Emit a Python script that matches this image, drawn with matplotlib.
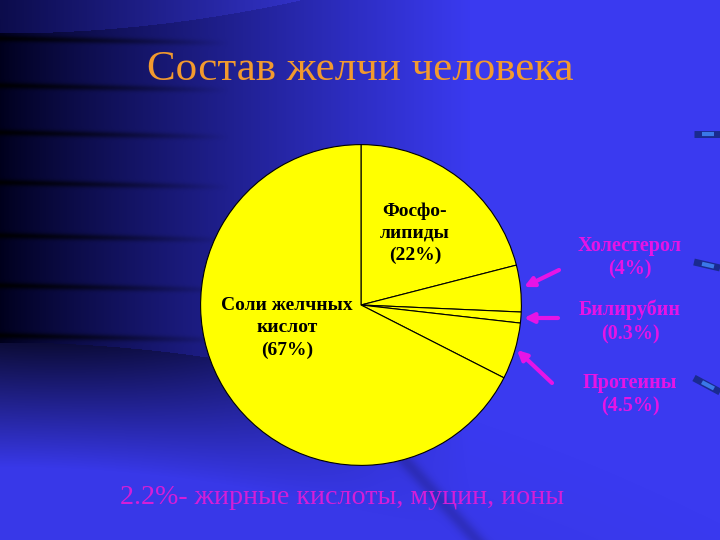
import numpy as np
import matplotlib
matplotlib.use("Agg")
import matplotlib.pyplot as plt
from matplotlib.patches import FancyArrowPatch

# data (slice sizes as drawn, labels as written)
slice_names = ["Фосфолипиды", "Холестерол", "Билирубин", "Протеины", "Соли желчных кислот"]
slice_sizes = [21.0, 4.7, 1.1, 5.7, 67.5]
inner_labels = ["Фосфо-\nлипиды\n(22%)", "Соли желчных\nкислот\n(67%)"]
side_labels = ["Холестерол\n(4%)", "Билирубин\n(0.3%)", "Протеины\n(4.5%)"]
title = "Состав желчи человека"
footnote = "2.2%- жирные кислоты, муцин, ионы"

W, H = 720, 540
plt.rcParams["font.family"] = ["Liberation Serif", "DejaVu Serif"]

fig = plt.figure(figsize=(7.2, 5.4), dpi=100)

# ---- background: blue slide gradient ----
xx, yy = np.meshgrid(np.arange(W), np.arange(H))
bright = np.array([58, 58, 240]) / 255
dark = np.array([0, 0, 28]) / 255
t = np.clip(xx / 470, 0, 1) ** 0.85
main = dark + (bright - dark) * t[..., None]
img = main.copy()

# top arc
ya = 33 * (1 - (xx / 300.0) ** 2)
top = yy < ya
ta = np.clip(xx / 300, 0, 1)
arc_col = np.array([12, 12, 75]) / 255 + (np.array([50, 50, 200]) / 255 - np.array([12, 12, 75]) / 255) * ta[..., None]
img[top] = arc_col[top]

# lower left swoosh, fading out to the right
yb = 342 + 0.00035 * xx ** 2
s = np.clip((yy - yb) / 125, 0, 1)
low_start = np.array([12, 12, 55]) / 255
fx = np.clip(xx / 380, 0, 1)[..., None]
edge_col = low_start * (1 - fx) + main * fx
low = edge_col + (bright * 0.97 - edge_col) * s[..., None]
mask = yy > yb
img[mask] = low[mask]

# faint diagonal shadow near the bottom
d = (xx - 400) - (yy - 455) * 0.9
shade = 0.18 * np.exp(-(d / 10.0) ** 2) * (yy > 440)
img = img * (1 - shade[..., None])

# dark streaks on the left
for yl in [38, 85, 132, 182, 235, 285, 335]:
    a = np.clip(1 - xx / 230, 0, 1) * 0.85 * np.exp(-((yy - yl - 0.02 * xx) / 3.2) ** 2)
    img = img * (1 - a[..., None])

bg = fig.add_axes([0, 0, 1, 1])
bg.imshow(np.clip(img, 0, 1), extent=[0, W, H, 0], aspect="auto")
bg.set_xlim(0, W)
bg.set_ylim(H, 0)
bg.axis("off")

# small decorative bars on the right
for (x0, y0, x1, y1) in [(694, 134, 720, 134), (694, 262, 720, 268), (694, 378, 720, 392)]:
    bg.plot([x0, x1], [y0, y1], color="#1a2a90", lw=5, solid_capstyle="butt")
    bg.plot([x0 + 8, x1 - 6], [y0 + (y1 - y0) * 0.3, y0 + (y1 - y0) * 0.75], color="#3a78e8", lw=3, solid_capstyle="butt")

# ---- pie ----
cx, cy, r = 361, 305, 162
pax = fig.add_axes([(cx - r) / W, (H - cy - r) / H, 2 * r / W, 2 * r / H])
pax.pie(slice_sizes, startangle=90, counterclock=False, colors=["#ffff00"] * len(slice_sizes),
        wedgeprops=dict(edgecolor="black", linewidth=0.8))
pax.set_xlim(-1.01, 1.01)
pax.set_ylim(-1.01, 1.01)
pax.set_aspect("equal")
pax.axis("off")

# ---- overlay for texts ----
ov = fig.add_axes([0, 0, 1, 1])
ov.set_xlim(0, W)
ov.set_ylim(H, 0)
ov.axis("off")
ov.patch.set_alpha(0)

ov.text(360, 70, title, color="#f29a2e", fontsize=31, ha="center", va="center")

ov.text(415, 233, inner_labels[0], fontsize=14, fontweight="bold", ha="center", va="center",
        color="black", linespacing=1.38)
ov.text(287, 328, inner_labels[1], fontsize=14, fontweight="bold", ha="center", va="center",
        color="black", linespacing=1.38)

mag = "#e614e6"
for (ty, lab) in zip([258, 322, 395], side_labels):
    ov.text(630, ty, lab, fontsize=14.5, fontweight="bold", ha="center", va="center",
            color=mag, linespacing=1.25)
for (x0, y0, x1, y1) in [(559, 270, 524, 287), (558, 318, 524, 318), (552, 383, 517, 350)]:
    ov.add_patch(FancyArrowPatch((x0, y0), (x1, y1), arrowstyle="-|>", mutation_scale=14,
                                 color=mag, lw=3, shrinkA=0, shrinkB=0))

ov.text(120, 497, footnote, fontsize=20.2, color="#d41ed8", ha="left", va="center")

fig.savefig("out.png", dpi=100)
